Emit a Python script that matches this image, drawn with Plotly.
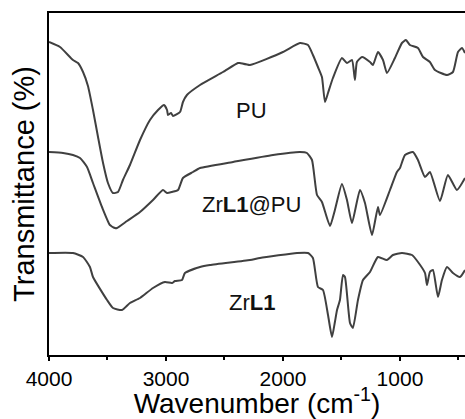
import plotly.graph_objects as go

# PU spectrum (wavenumber cm-1, relative transmittance)
pu_wn = [4000, 3906, 3795, 3752, 3709, 3667, 3624, 3581, 3538, 3496,
         3453, 3410, 3368, 3308, 3222, 3137, 3068, 3017, 2991, 2983,
         2957, 2940, 2880, 2855, 2821, 2709, 2513, 2385, 2368, 2282,
         2000, 1855, 1786, 1744, 1701, 1667, 1641, 1615, 1573, 1496,
         1453, 1410, 1385, 1368, 1325, 1256, 1231, 1188, 1145, 1111,
         1043, 983, 949, 915, 846, 803, 744, 701, 598, 547,
         504, 470, 444]
pu_t = [315, 310, 297, 294, 285, 271, 247, 220, 194, 174,
        164, 165, 177, 192, 217, 237, 247, 252, 247, 242,
        244, 241, 245, 255, 262, 272, 285, 294, 294, 292,
        305, 314, 312, 302, 290, 280, 255, 264, 279, 299,
        294, 297, 277, 295, 300, 295, 292, 305, 297, 284,
        299, 314, 317, 312, 309, 300, 295, 287, 282, 285,
        305, 309, 304]

# ZrL1@PU spectrum
zpu_wn = [4000, 3880, 3795, 3735, 3675, 3624, 3547, 3479, 3436, 3419,
          3333, 3222, 3111, 3026, 2991, 2949, 2897, 2855, 2769, 2709,
          2427, 2085, 1855, 1795, 1752, 1709, 1667, 1598, 1556, 1496,
          1453, 1410, 1342, 1299, 1239, 1188, 1171, 1085, 1026, 1000,
          957, 889, 846, 786, 744, 658, 590, 513, 444]
zpu_t = [205, 204, 202, 199, 190, 174, 150, 132, 129, 129,
         136, 145, 157, 167, 164, 165, 167, 179, 185, 189,
         195, 202, 205, 204, 197, 162, 155, 131, 147, 173,
         157, 134, 167, 154, 122, 150, 142, 167, 185, 189,
         202, 205, 197, 180, 185, 156, 182, 167, 179]

# ZrL1 spectrum
z_wn = [4000, 3795, 3709, 3650, 3624, 3504, 3453, 3376, 3308, 3222,
        3111, 3009, 2949, 2923, 2863, 2838, 2709, 2624, 2282, 2197,
        1880, 1786, 1744, 1701, 1658, 1615, 1581, 1556, 1538, 1513,
        1487, 1470, 1427, 1402, 1359, 1316, 1256, 1188, 1111, 1060,
        983, 897, 846, 786, 769, 744, 718, 675, 641, 598,
        547, 487, 444]
z_t = [104, 104, 100, 90, 80, 57, 49, 47, 54, 59,
       69, 75, 74, 76, 77, 84, 90, 92, 97, 99,
       104, 104, 99, 70, 67, 42, 20, 35, 47, 57,
       82, 80, 34, 29, 57, 77, 85, 100, 97, 102,
       104, 102, 95, 84, 72, 85, 87, 60, 77, 90,
       84, 80, 87]

labels = ["PU", "Zr<b>L1</b>@PU", "Zr<b>L1</b>"]
label_x = [2265, 2265, 2265]
label_y = [247, 153, 55]

x_ticks = [4000, 3000, 2000, 1000]
x_minor = [3500, 2500, 1500, 500]

line_color = "#404040"
font_family = "Liberation Sans, Arial, sans-serif"

fig = go.Figure()
for wn, t in [(pu_wn, pu_t), (zpu_wn, zpu_t), (z_wn, z_t)]:
    fig.add_trace(go.Scatter(x=wn, y=t, mode="lines",
                             line=dict(color=line_color, width=2,
                                       shape="spline", smoothing=0.5),
                             showlegend=False, hoverinfo="skip"))

for txt, lx, ly in zip(labels, label_x, label_y):
    fig.add_annotation(x=lx, y=ly, text=txt, showarrow=False,
                       font=dict(size=22, color="#111111", family=font_family),
                       xanchor="center", yanchor="middle")

fig.update_layout(
    width=465, height=419,
    margin=dict(l=49, r=0, t=13, b=64),
    paper_bgcolor="white", plot_bgcolor="white",
    font=dict(family=font_family, color="black"),
    showlegend=False,
)
fig.update_xaxes(
    range=[4000, 444], showgrid=False, zeroline=False,
    showline=True, linecolor="black", linewidth=2, mirror=True,
    tickmode="array", tickvals=x_ticks, ticktext=[str(v) for v in x_ticks],
    ticks="outside", ticklen=4, tickwidth=2, tickcolor="black",
    tickfont=dict(size=21, color="black", family=font_family),
    minor=dict(tickvals=x_minor, ticks="outside", ticklen=3, tickwidth=2, tickcolor="black"),
    title=dict(text="Wavenumber (cm<sup>-1</sup>)", font=dict(size=28, color="black", family=font_family), standoff=4),
)
fig.update_yaxes(
    range=[2, 344], showgrid=False, zeroline=False,
    showline=True, linecolor="black", linewidth=2, mirror=False,
    showticklabels=False, ticks="",
    title=dict(text="Transmittance (%)", font=dict(size=29, color="black", family=font_family), standoff=4),
)

fig.write_html("out.html")
